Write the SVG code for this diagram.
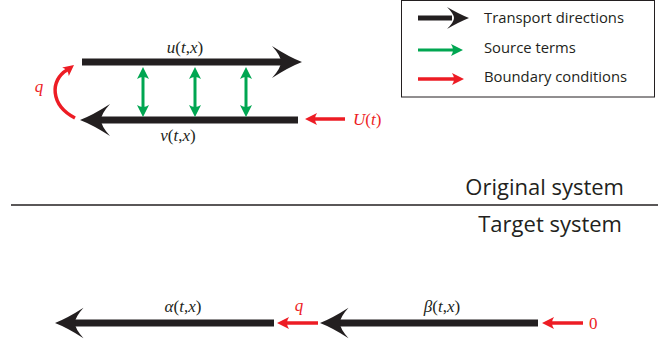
<svg xmlns="http://www.w3.org/2000/svg" width="665" height="350" viewBox="0 0 665 350">
<style>
.blk{fill:#231f20}
.grn{fill:#00a651}
.red{fill:#ed1c24}
.gl{stroke:#00a651;stroke-width:3;fill:none}
.rl{stroke:#ed1c24;stroke-width:3.5;fill:none}
.math{font-family:"Liberation Serif","DejaVu Serif",serif;font-style:italic;font-size:17px;fill:#231f20}
.up{font-style:normal}
.rm{fill:#ed1c24}
.lt{font-family:"Open Sans","Liberation Sans",sans-serif;font-size:14.8px;fill:#231f20}
.big{font-family:"Open Sans","Liberation Sans",sans-serif;font-size:22px;fill:#231f20}
</style>
<defs>
<path id="bh" d="M0,0 Q-13,-5 -30,-16 Q-21,-6 -21,0 Q-21,6 -30,16 Q-13,5 0,0 Z"/>
<path id="bhs" d="M0,0 Q-10,-4 -22,-11 Q-15,-4 -15,0 Q-15,4 -22,11 Q-10,4 0,0 Z"/>
<path id="sh" d="M0,0 L-12,-6 Q-8,0 -12,6 Z"/>
</defs>

<g id="legend">
<rect x="401.5" y="0.5" width="253" height="96.5" fill="#fff" stroke="#231f20" stroke-width="1"/>
<rect class="blk" x="418" y="15.5" width="34" height="5"/>
<use href="#bhs" class="blk" transform="translate(469,18)"/>
<text class="lt" x="484" y="23">Transport directions</text>
<line class="gl" x1="418" y1="50" x2="455" y2="50"/>
<use href="#sh" class="grn" transform="translate(463,50)"/>
<text class="lt" x="484" y="53">Source terms</text>
<line class="rl" x1="418" y1="79" x2="455" y2="79"/>
<use href="#sh" class="red" transform="translate(464,79)"/>
<text class="lt" x="484" y="82">Boundary conditions</text>
</g>

<g id="connectors">
<g id="u-arrow">
<rect class="blk" x="82" y="58.5" width="206" height="7"/>
<use href="#bh" class="blk" transform="translate(302,62)"/>
</g>
<g id="v-arrow">
<rect class="blk" x="94" y="116.5" width="204" height="7"/>
<use href="#bh" class="blk" transform="translate(80,120) rotate(180)"/>
</g>
<g id="sources">
<line class="gl" x1="143" y1="76" x2="143" y2="108"/>
<use href="#sh" class="grn" transform="translate(143,67) rotate(-90)"/>
<use href="#sh" class="grn" transform="translate(143,117) rotate(90)"/>
<line class="gl" x1="195" y1="76" x2="195" y2="108"/>
<use href="#sh" class="grn" transform="translate(195,67) rotate(-90)"/>
<use href="#sh" class="grn" transform="translate(195,117) rotate(90)"/>
<line class="gl" x1="246" y1="76" x2="246" y2="108"/>
<use href="#sh" class="grn" transform="translate(246,67) rotate(-90)"/>
<use href="#sh" class="grn" transform="translate(246,117) rotate(90)"/>
</g>
<g id="q-curve">
<path class="rl" d="M75,118 C50,105 50,80 67,70"/>
<use href="#sh" class="red" transform="translate(74,65) rotate(-38) scale(0.9)"/>
</g>
<g id="U-arrow">
<line class="rl" x1="345" y1="119" x2="313" y2="119"/>
<use href="#sh" class="red" transform="translate(305,119) rotate(180)"/>
</g>
<g id="alpha-arrow">
<rect class="blk" x="70" y="319.5" width="204" height="7"/>
<use href="#bh" class="blk" transform="translate(55,323) rotate(180) scale(0.95)"/>
</g>
<g id="q-arrow">
<line class="rl" x1="318" y1="323" x2="285" y2="323"/>
<use href="#sh" class="red" transform="translate(277,323) rotate(180)"/>
</g>
<g id="beta-arrow">
<rect class="blk" x="335" y="319.5" width="203" height="7"/>
<use href="#bh" class="blk" transform="translate(320,323) rotate(180) scale(0.95)"/>
</g>
<g id="zero-arrow">
<line class="rl" x1="583" y1="323" x2="550" y2="323"/>
<use href="#sh" class="red" transform="translate(542,323) rotate(180)"/>
</g>
</g>

<g id="labels">
<text class="math" x="185" y="53" text-anchor="middle">u<tspan class="up">(</tspan>t<tspan class="up">,</tspan>x<tspan class="up">)</tspan></text>
<text class="math" x="178" y="141" text-anchor="middle">v<tspan class="up">(</tspan>t<tspan class="up">,</tspan>x<tspan class="up">)</tspan></text>
<text class="math rm" x="39" y="92" text-anchor="middle">q</text>
<text class="math rm" x="353" y="125">U<tspan class="up">(</tspan>t<tspan class="up">)</tspan></text>
<text class="math" x="183" y="312" text-anchor="middle">α<tspan class="up">(</tspan>t<tspan class="up">,</tspan>x<tspan class="up">)</tspan></text>
<text class="math rm" x="299" y="311" text-anchor="middle">q</text>
<text class="math" x="442" y="312" text-anchor="middle">β<tspan class="up">(</tspan>t<tspan class="up">,</tspan>x<tspan class="up">)</tspan></text>
<text class="math rm up" x="589" y="329">0</text>
</g>

<g id="divider">
<text class="big" x="624" y="195" text-anchor="end">Original system</text>
<line x1="11" y1="205" x2="658" y2="205" stroke="#231f20" stroke-width="1.5"/>
<text class="big" x="622" y="232" text-anchor="end">Target system</text>
</g>
</svg>
